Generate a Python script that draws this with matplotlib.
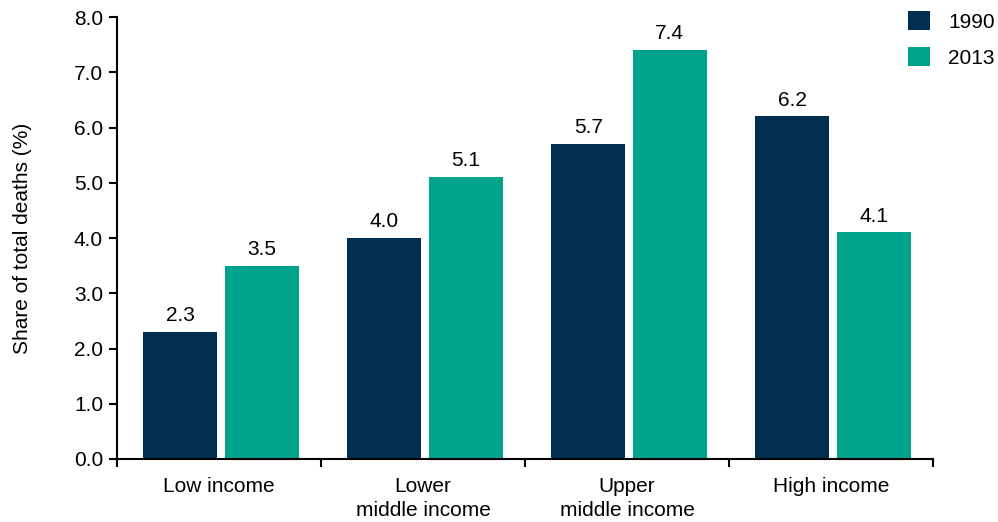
import matplotlib
matplotlib.use("Agg")
import matplotlib.pyplot as plt
import numpy as np

plt.rcParams['font.family'] = ['Liberation Sans', 'DejaVu Sans']

categories = ["Low income", "Lower\nmiddle income", "Upper\nmiddle income", "High income"]
series_names = ["1990", "2013"]
values_1990 = [2.3, 4.0, 5.7, 6.2]
values_2013 = [3.5, 5.1, 7.4, 4.1]
colors = ["#002F52", "#00A38B"]

FS = 15

fig = plt.figure(figsize=(9.98, 5.22), dpi=100)
ax = fig.add_axes([0.1172, 0.1207, 0.8177, 0.8467])

x = np.arange(len(categories))
w = 0.363
b1 = ax.bar(x - 0.19, values_1990, width=w, color=colors[0], label=series_names[0])
b2 = ax.bar(x + 0.21, values_2013, width=w, color=colors[1], label=series_names[1])

for bars, vals in ((b1, values_1990), (b2, values_2013)):
    for r, v in zip(bars, vals):
        ax.annotate(f"{v:.1f}", (r.get_x() + r.get_width() / 2, v), xytext=(0, 5),
                    textcoords="offset points", ha="center", va="bottom", fontsize=FS)

ax.set_xlim(-0.5, len(categories) - 0.5)
ax.set_ylim(0, 8)
ax.set_yticks(np.arange(0, 8.01, 1.0))
ax.set_yticklabels([f"{t:.1f}" for t in np.arange(0, 8.01, 1.0)], fontsize=FS)
ax.set_xticks(np.arange(-0.5, len(categories), 1.0))
ax.set_xticklabels([])
ax.set_xticks(x, minor=True)
ax.set_xticklabels(categories, minor=True, fontsize=FS, linespacing=1.3)
ax.tick_params(axis='x', which='minor', length=0, pad=13)
ax.tick_params(axis='x', which='major', length=6, width=1.5, direction='out')
ax.tick_params(axis='y', length=6, width=1.5, direction='out', pad=4)

for s in ("top", "right"):
    ax.spines[s].set_visible(False)
for s in ("left", "bottom"):
    ax.spines[s].set_linewidth(1.5)

ax.set_ylabel("Share of total deaths (%)", fontsize=FS, labelpad=30)

fig.legend(loc="upper left", bbox_to_anchor=(908 / 998, 1 - 11 / 522), frameon=False, fontsize=FS,
           handlelength=1.06, handleheight=1.06, handletextpad=0.87, labelspacing=0.72,
           borderaxespad=0, borderpad=0)

fig.savefig("out.png", dpi=100)
